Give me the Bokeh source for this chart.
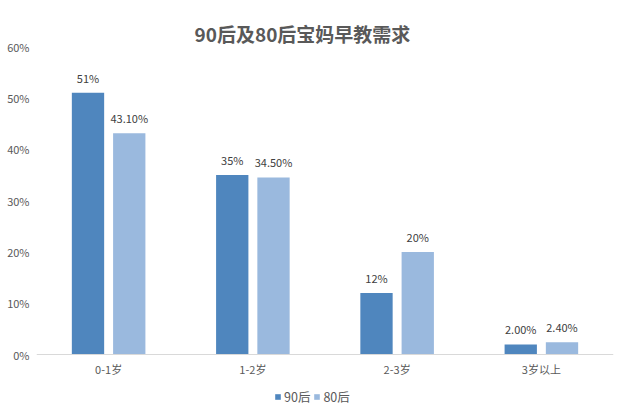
from bokeh.plotting import figure
from bokeh.models import ColumnDataSource, FactorRange, Legend, LegendItem, PrintfTickFormatter, FixedTicker, Range1d
from bokeh.transform import dodge
from bokeh.core.properties import value
from bokeh.embed import file_html
from bokeh.resources import INLINE

categories = ["0-1岁", "1-2岁", "2-3岁", "3岁以上"]
series_90 = [51, 35, 12, 2.0]
series_80 = [43.1, 34.5, 20, 2.4]
labels_90 = ["51%", "35%", "12%", "2.00%"]
labels_80 = ["43.10%", "34.50%", "20%", "2.40%"]
y_ticks = [0, 10, 20, 30, 40, 50, 60]

FONT = "Noto Sans CJK SC"
C90 = "#4F86BE"
C80 = "#9AB9DE"

src = ColumnDataSource(dict(cat=categories, v90=series_90, v80=series_80, l90=labels_90, l80=labels_80))

p = figure(x_range=FactorRange(*categories, range_padding=0), y_range=Range1d(-10.48, 60),
           frame_width=577, frame_height=362, output_backend="svg", toolbar_location=None,
           min_border_left=36, min_border_right=10, min_border_top=46, min_border_bottom=2)

p.title.text = "90后及80后宝妈早教需求"
p.title.text_font = FONT
p.title.text_font_size = "19px"
p.title.text_font_style = "bold"
p.title.text_color = "#595959"
p.title.align = "left"
p.title.offset = 158
p.title.standoff = 0

p.outline_line_color = None
p.xgrid.grid_line_color = None
p.ygrid.grid_line_color = None

r90 = p.vbar(x=dodge("cat", -0.143, range=p.x_range), top="v90", width=0.224, source=src,
             fill_color=C90, line_color=None)
r80 = p.vbar(x=dodge("cat", 0.143, range=p.x_range), top="v80", width=0.224, source=src,
             fill_color=C80, line_color=None)

p.text(x=dodge("cat", -0.143, range=p.x_range), y="v90", text="l90", source=src,
       text_align="center", text_baseline="bottom", y_offset=-7,
       text_font=value(FONT), text_font_size="11px", text_color="#404040")
p.text(x=dodge("cat", 0.143, range=p.x_range), y="v80", text="l80", source=src,
       text_align="center", text_baseline="bottom", y_offset=-7,
       text_font=value(FONT), text_font_size="11px", text_color="#404040")

p.yaxis.ticker = FixedTicker(ticks=y_ticks)
p.yaxis.formatter = PrintfTickFormatter(format="%d%%")
p.yaxis.axis_line_color = None
p.yaxis.major_tick_line_color = None
p.yaxis.minor_tick_line_color = None
p.yaxis.major_tick_out = 0
p.yaxis.major_tick_in = 0
p.yaxis.major_label_standoff = 7
p.yaxis.major_label_text_font = FONT
p.yaxis.major_label_text_font_size = "11px"
p.yaxis.major_label_text_color = "#595959"

p.xaxis.fixed_location = 0
p.xaxis.axis_line_color = "#D9D9D9"
p.xaxis.major_tick_line_color = None
p.xaxis.minor_tick_line_color = None
p.xaxis.major_tick_out = 0
p.xaxis.major_tick_in = 0
p.xaxis.major_label_standoff = 6
p.xaxis.major_label_text_font = FONT
p.xaxis.major_label_text_font_size = "11px"
p.xaxis.major_label_text_color = "#595959"

legend = Legend(items=[LegendItem(label="90后", renderers=[r90]), LegendItem(label="80后", renderers=[r80])],
                orientation="horizontal", location=(238, 2), border_line_color=None,
                background_fill_alpha=0, glyph_width=7, glyph_height=7, spacing=3,
                label_standoff=3, padding=0, margin=0,
                label_text_font=FONT, label_text_font_size="12.5px", label_text_color="#595959")
p.add_layout(legend)

open("out.html", "w").write(file_html(p, INLINE))
